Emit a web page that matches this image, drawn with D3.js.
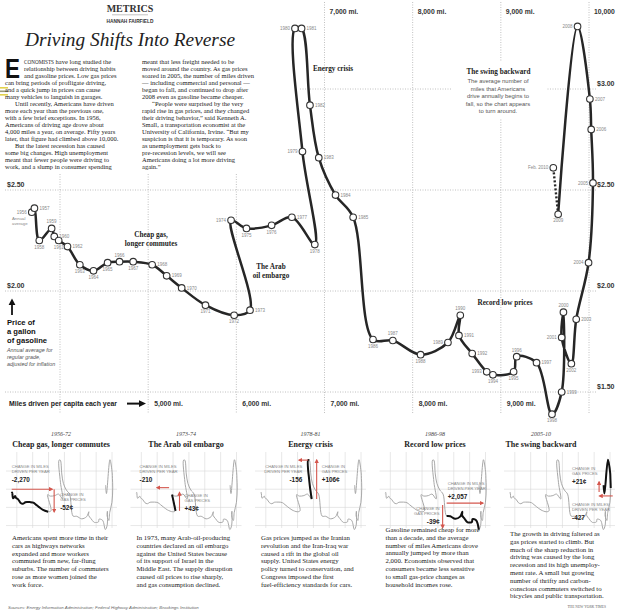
<!DOCTYPE html>
<html>
<head>
<meta charset="utf-8">
<script src="https://cdn.jsdelivr.net/npm/d3@7/dist/d3.min.js"></script>
<style>
  body { margin: 0; background: #fff; }
  svg { display: block; }
  .serif { font-family: "Liberation Serif", "Times New Roman", serif; }
  .sans { font-family: "Liberation Sans", Arial, sans-serif; }
</style>
</head>
<body>
<script>
// ---- data ----
var yearLabels = ["1956","1957","1958","1959","1960","1961","1962","1963","1964","1965",
  "1966","1967","1968","1969","1970","1971","1972","1973","1974","1975",
  "1976","1977","1978","1979","1980","1981","1982","1983","1984","1985",
  "1986","1987","1988","1989","1990","1991","1992","1993","1994","1995",
  "1996","1997","1998","1999","2000","2001","2002","2003","2004","2005",
  "2006","2007","2008","2009","Feb. 2010"];
var milesDriven = [3680,3710,3765,3905,3935,3985,4085,4225,4380,4540,
  4675,4830,5045,5210,5380,5650,5975,6155,5940,6115,
  6400,6630,6890,6750,6665,6740,6835,6935,7125,7325,
  7550,7775,8090,8400,8540,8525,8675,8840,8910,9145,
  9180,9405,9580,9690,9710,9690,9800,9855,9995,10045,
  10025,10010,9870,9650,9595];
var gasPrice = [2.39,2.41,2.25,2.31,2.27,2.25,2.22,2.13,2.10,2.14,
  2.145,2.145,2.13,2.075,2.015,1.93,1.88,1.905,2.35,2.31,
  2.325,2.365,2.23,2.69,3.30,3.30,2.92,2.66,2.475,2.365,
  1.76,1.755,1.685,1.745,1.88,1.78,1.69,1.60,1.585,1.60,
  1.675,1.645,1.39,1.50,1.895,1.77,1.64,1.86,2.14,2.535,
  2.80,2.95,3.31,2.38,2.61];
var labelSide = ["l","r","b","t","r","b","r","b","b","b",
  "t","b","r","r","r","b","b","r","l","b",
  "b","r","b","l","l","r","r","r","r","r",
  "b","t","b","l","t","r","r","l","b","b",
  "t","r","b","r","t","l","b","r","l","l",
  "r","r","l","b","l"];

var gridMiles = [4000, 5000, 6000, 7000, 8000, 9000, 10000];
var topMileTicks = [7000, 8000, 9000, 10000];
var bottomMileTicks = [5000, 6000, 7000, 8000, 9000];
var gridPrices = [1.5, 2, 2.5, 3];
var leftPriceTicks = [2.5, 2];

var bodyCol1 = [
  " have long studied the",
  "relationship between driving habits",
  "and gasoline prices. Low gas prices",
  "can bring periods of profligate driving,",
  "and a quick jump in prices can cause",
  "many vehicles to languish in garages.",
  "Until recently, Americans have driven",
  "more each year than the previous one,",
  "with a few brief exceptions. In 1956,",
  "Americans of driving age drove about",
  "4,000 miles a year, on average. Fifty years",
  "later, that figure had climbed above 10,000.",
  "But the latest recession has caused",
  "some big changes. High unemployment",
  "meant that fewer people were driving to",
  "work, and a slump in consumer spending"];
var bodyCol2 = [
  "meant that less freight needed to be",
  "moved around the country. As gas prices",
  "soared in 2005, the number of miles driven",
  "\u2014 including commercial and personal \u2014",
  "began to fall, and continued to drop after",
  "2008 even as gasoline became cheaper.",
  "\u201cPeople were surprised by the very",
  "rapid rise in gas prices, and they changed",
  "their driving behavior,\u201d said Kenneth A.",
  "Small, a transportation economist at the",
  "University of California, Irvine. \u201cBut my",
  "suspicion is that it is temporary. As soon",
  "as unemployment gets back to",
  "pre-recession levels, we will see",
  "Americans doing a lot more driving",
  "again.\u201d"];
var col1Indent = [6, 12];
var col2Indent = [6];

var swingNote = ["The average number of", "miles that Americans", "drive annually begins to",
  "fall, so the chart appears", "to turn around."];
var priceNote = ["Annual average for", "regular grade,", "adjusted for inflation"];

var panelPeriods = ["1956-72", "1973-74", "1978-81", "1986-98", "2005-10"];
var panelTitles = ["Cheap gas, longer commutes", "The Arab oil embargo", "Energy crisis",
  "Record low prices", "The swing backward"];
var panelFrom = ["1956", "1973", "1978", "1986", "2005"];
var panelTo = ["1972", "1974", "1981", "1998", "Feb. 2010"];
var milesChange = ["-2,270", "-210", "-156", "+2,057", "-427"];
var priceChange = ["-52\u00a2", "+43\u00a2", "+106\u00a2", "-39\u00a2", "+21\u00a2"];
var panelText = [
  ["Americans spent more time in their", "cars as highways networks", "expanded and more workers",
   "commuted from new, far-flung", "suburbs. The number of commuters", "rose as more women joined the",
   "work force."],
  ["In 1973, many Arab-oil-producing", "countries declared an oil embargo", "against the United States because",
   "of its support of Israel in the", "Middle East. The supply disruption", "caused oil prices to rise sharply,",
   "and gas consumption declined."],
  ["Gas prices jumped as the Iranian", "revolution and the Iran-Iraq war", "caused a rift in the global oil",
   "supply. United States energy", "policy turned to conservation, and", "Congress imposed the first",
   "fuel-efficiency standards for cars."],
  ["Gasoline remained cheap for more", "than a decade, and the average", "number of miles Americans drove",
   "annually jumped by more than", "2,000. Economists observed that", "consumers became less sensitive",
   "to small gas-price changes as", "household incomes rose."],
  ["The growth in driving faltered as", "gas prices started to climb.  But", "much of the sharp reduction in",
   "driving was caused by the long", "recession and its high unemploy-", "ment rate. A small but growing",
   "number of thrifty and carbon-", "conscious commuters switched to", "bicycles and public transportation."]
];

// ---- setup ----
var width = 617, height = 613;
var svg = d3.select("body").append("svg").attr("width", width).attr("height", height);

var x = d3.scaleLinear().domain([4000, 10000]).range([60, 589]);
var y = d3.scaleLinear().domain([1.5, 3]).range([392, 89]);

var data = yearLabels.map(function (yr, i) {
  return { year: yr, m: milesDriven[i], p: gasPrice[i], side: labelSide[i] };
});

var ink = "#262626", gray = "#888", red = "#d4574e";

var defs = svg.append("defs");
defs.append("marker").attr("id", "redHead")
  .attr("viewBox", "0 0 10 10").attr("refX", 7).attr("refY", 5)
  .attr("markerWidth", 4.5).attr("markerHeight", 4.5)
  .attr("markerUnits", "userSpaceOnUse").attr("orient", "auto")
  .append("path").attr("d", "M0,0L10,5L0,10z").attr("fill", red);

// scanner marks at the left edge
[87, 90.5, 94].forEach(function (yy, i) {
  svg.append("rect").attr("x", 0).attr("y", yy).attr("width", 8).attr("height", 1.6)
    .attr("fill", i == 1 ? "#9a9a7a" : "#e3d24c");
});

// ---- grid ----
var grid = svg.append("g").attr("stroke", "#b0b0b0").attr("stroke-width", 0.8)
  .attr("stroke-dasharray", "1,1.5");
gridMiles.forEach(function (m) {
  grid.append("line").attr("x1", x(m)).attr("x2", x(m))
    .attr("y1", m >= 7000 ? 2 : 174).attr("y2", 413);
});
gridPrices.forEach(function (p) {
  grid.append("line").attr("x1", p == 3 ? 300 : 5).attr("x2", 597)
    .attr("y1", y(p)).attr("y2", y(p));
});

// ---- axis labels ----
var fmt = d3.format(",");
svg.selectAll(".topTick").data(topMileTicks).enter().append("text")
  .attr("class", "sans").attr("x", function (d) { return x(d) + 5; }).attr("y", 14)
  .attr("font-size", 6.8).attr("font-weight", "bold").attr("fill", "#333")
  .text(function (d) { return d == 10000 ? fmt(d) : fmt(d) + " mi."; });
svg.selectAll(".botTick").data(bottomMileTicks).enter().append("text")
  .attr("class", "sans").attr("x", function (d) { return x(d) + 6; }).attr("y", 406)
  .attr("font-size", 6.8).attr("font-weight", "bold").attr("fill", "#333")
  .text(function (d) { return fmt(d) + " mi."; });
svg.selectAll(".rTick").data(gridPrices).enter().append("text")
  .attr("class", "sans").attr("x", 597).attr("y", function (d) { return y(d) - 3; })
  .attr("font-size", 7).attr("font-weight", "bold").attr("fill", "#333")
  .text(function (d) { return "$" + d.toFixed(2); });
svg.selectAll(".lTick").data(leftPriceTicks).enter().append("text")
  .attr("class", "sans").attr("x", 7).attr("y", function (d) { return y(d) - 3; })
  .attr("font-size", 7).attr("font-weight", "bold").attr("fill", "#333")
  .text(function (d) { return "$" + d.toFixed(2); });

svg.append("text").attr("class", "sans").attr("x", 9).attr("y", 406)
  .attr("font-size", 6.9).attr("font-weight", "bold").attr("fill", "#222")
  .text("Miles driven per capita each year");
svg.append("line").attr("x1", 127).attr("x2", 140).attr("y1", 403.6).attr("y2", 403.6)
  .attr("stroke", "#111").attr("stroke-width", 2);
svg.append("path").attr("d", "M139,400.3L146,403.6L139,406.9z").attr("fill", "#111");

svg.append("line").attr("x1", 12).attr("x2", 12).attr("y1", 315).attr("y2", 304)
  .attr("stroke", "#111").attr("stroke-width", 1.8);
svg.append("path").attr("d", "M8.6,305L12,298.5L15.4,305z").attr("fill", "#111");
["Price of", "a gallon", "of gasoline"].forEach(function (t, i) {
  svg.append("text").attr("class", "sans").attr("x", 7).attr("y", 325 + i * 9)
    .attr("font-size", 7.6).attr("font-weight", "bold").attr("fill", "#111").text(t);
});
priceNote.forEach(function (t, i) {
  svg.append("text").attr("class", "sans").attr("x", 7).attr("y", 352 + i * 7)
    .attr("font-size", 5.4).attr("font-style", "italic").attr("fill", "#555").text(t);
});

// ---- header text block ----
svg.append("text").attr("class", "serif").attr("x", 130).attr("y", 11.5)
  .attr("text-anchor", "middle").attr("font-size", 10).attr("font-weight", "bold")
  .attr("fill", "#333").text("METRICS");
svg.append("line").attr("x1", 112).attr("x2", 148).attr("y1", 14.8).attr("y2", 14.8)
  .attr("stroke", "#aaa").attr("stroke-width", 0.7);
svg.append("text").attr("class", "sans").attr("x", 130).attr("y", 23)
  .attr("text-anchor", "middle").attr("font-size", 4.8).attr("font-weight", "bold")
  .attr("fill", "#333").text("HANNAH FAIRFIELD");
svg.append("text").attr("class", "serif").attr("x", 25).attr("y", 46)
  .attr("font-size", 19.5).attr("font-style", "italic").attr("fill", "#222")
  .attr("textLength", 210).attr("lengthAdjust", "spacingAndGlyphs")
  .text("Driving Shifts Into Reverse");

svg.append("text").attr("class", "sans").attr("x", 5).attr("y", 78)
  .attr("font-size", 28).attr("font-weight", "bold").attr("fill", "#111")
  .attr("textLength", 15).attr("lengthAdjust", "spacingAndGlyphs").text("E");

var lineGap = 7.0, bodyTop = 63.5;
bodyCol1.forEach(function (t, i) {
  var xx = i < 3 ? 24 : (col1Indent.indexOf(i) >= 0 ? 15 : 5);
  var tx = svg.append("text").attr("class", "serif").attr("x", xx)
    .attr("y", bodyTop + i * lineGap).attr("font-size", 6.5).attr("fill", "#222");
  if (i == 0) {
    tx.append("tspan").attr("font-size", 5.2).text("CONOMISTS");
    tx.append("tspan").text(t);
  } else {
    tx.text(t);
  }
});
bodyCol2.forEach(function (t, i) {
  svg.append("text").attr("class", "serif")
    .attr("x", col2Indent.indexOf(i) >= 0 ? 152 : 142)
    .attr("y", bodyTop + i * lineGap).attr("font-size", 6.5).attr("fill", "#222").text(t);
});

// ---- annotations ----
function bold(t, xx, yy, anchor) {
  svg.append("text").attr("class", "serif").attr("x", xx).attr("y", yy)
    .attr("text-anchor", anchor || "middle").attr("font-size", 7.2)
    .attr("font-weight", "bold").attr("fill", "#222").text(t);
}
bold("Cheap gas,", 151, 237);
bold("longer commutes", 151, 245.5);
bold("The Arab", 271, 269);
bold("oil embargo", 271, 277.5);
bold("Energy crisis", 313, 70.5, "start");
bold("Record low prices", 505, 304.5);

svg.append("rect").attr("x", 452).attr("y", 62).attr("width", 95).attr("height", 56)
  .attr("fill", "#fff");
bold("The swing backward", 498.5, 73.5);
swingNote.forEach(function (t, i) {
  svg.append("text").attr("class", "sans").attr("x", 498).attr("y", 83 + i * 7.6)
    .attr("text-anchor", "middle").attr("font-size", 5.9).attr("fill", "#555").text(t);
});

// ---- main line ----
var line = d3.line()
  .x(function (d) { return x(d.m); })
  .y(function (d) { return y(d.p); })
  .curve(d3.curveCatmullRom.alpha(0.5));

var solid = data.slice(0, data.length - 1);
var tail = data.slice(data.length - 2);

svg.append("path").datum(solid).attr("d", line)
  .attr("fill", "none").attr("stroke", ink).attr("stroke-width", 2.5)
  .attr("stroke-linejoin", "round");
svg.append("path").datum(tail).attr("d", d3.line().x(function (d) { return x(d.m); }).y(function (d) { return y(d.p); }))
  .attr("fill", "none").attr("stroke", ink).attr("stroke-width", 2.4)
  .attr("stroke-dasharray", "2,2");

svg.selectAll(".dot").data(data).enter().append("circle")
  .attr("class", "dot").attr("r", 3.3)
  .attr("cx", function (d) { return x(d.m); }).attr("cy", function (d) { return y(d.p); })
  .attr("fill", "#fff").attr("stroke", "#333").attr("stroke-width", 1.1);

var offs = { l: [-5, 1.6, "end"], r: [5, 1.6, "start"], b: [0, 8.2, "middle"], t: [0, -5, "middle"] };
svg.selectAll(".yl").data(data).enter().append("text")
  .attr("class", "sans yl")
  .attr("x", function (d) { return x(d.m) + offs[d.side][0]; })
  .attr("y", function (d) { return y(d.p) + offs[d.side][1]; })
  .attr("text-anchor", function (d) { return offs[d.side][2]; })
  .attr("font-size", 4.5).attr("fill", gray)
  .text(function (d) { return d.year; });
["Annual", "average"].forEach(function (t, i) {
  svg.append("text").attr("class", "sans").attr("x", 12).attr("y", 220 + i * 4.5)
    .attr("font-size", 4.3).attr("fill", gray).text(t);
});

// ---- small multiples ----
var panelLeft = [6, 130.5, 255, 379.5, 504];
var titleMid = [61, 186, 310.5, 435, 541];
var k = 0.18, miniTop = 455;

function arrow(g, x1, y1, x2, y2) {
  g.append("line").attr("x1", x1).attr("y1", y1).attr("x2", x2).attr("y2", y2)
    .attr("stroke", red).attr("stroke-width", 1.1).attr("marker-end", "url(#redHead)");
}
function changeLabel(g, xx, yy, anchor, w1, w2, value) {
  [w1, w2].forEach(function (t, i) {
    g.append("text").attr("class", "sans").attr("x", xx).attr("y", yy + i * 5.2)
      .attr("text-anchor", anchor).attr("font-size", 4.2).attr("fill", "#888").text(t);
  });
  g.append("text").attr("class", "sans").attr("x", xx).attr("y", yy + 13.5)
    .attr("text-anchor", anchor).attr("font-size", 6.4).attr("font-weight", "bold")
    .attr("fill", "#222").text(value);
}

panelTitles.forEach(function (title, i) {
  var left = panelLeft[i], mid = titleMid[i];
  var g = svg.append("g");
  var xs = d3.scaleLinear().domain(x.domain()).range(x.range().map(function (v) { return left + v * k; }));
  var ys = d3.scaleLinear().domain(y.domain()).range(y.range().map(function (v) { return miniTop + v * k; }));

  g.append("text").attr("class", "serif").attr("x", mid).attr("y", 436)
    .attr("text-anchor", "middle").attr("font-size", 6).attr("font-style", "italic")
    .attr("fill", "#444").text(panelPeriods[i]);
  g.append("text").attr("class", "serif").attr("x", mid).attr("y", 447)
    .attr("text-anchor", "middle").attr("font-size", 8).attr("font-weight", "bold")
    .attr("fill", "#222").text(title);

  var mg = g.append("g").attr("stroke", "#d6d6d6").attr("stroke-width", 0.6);
  gridMiles.forEach(function (m) {
    mg.append("line").attr("x1", xs(m)).attr("x2", xs(m)).attr("y1", 452).attr("y2", 528);
  });
  gridPrices.forEach(function (p) {
    mg.append("line").attr("x1", left).attr("x2", left + 111).attr("y1", ys(p)).attr("y2", ys(p));
  });

  var ml = d3.line().x(function (d) { return xs(d.m); }).y(function (d) { return ys(d.p); })
    .curve(d3.curveCatmullRom.alpha(0.5));
  g.append("path").datum(data).attr("d", ml).attr("fill", "none")
    .attr("stroke", "#a8a8a8").attr("stroke-width", 1);
  var a = yearLabels.indexOf(panelFrom[i]), b = yearLabels.indexOf(panelTo[i]);
  var seg = data.slice(a, b + 1);
  g.append("path").datum(seg).attr("d", ml).attr("fill", "none")
    .attr("stroke", "#111").attr("stroke-width", 2);

  var x0 = xs(data[a].m), y0 = ys(data[a].p), x1 = xs(data[b].m), y1 = ys(data[b].p);
  var mA = "CHANGE IN MILES", mB = "DRIVEN PER YEAR", pA = "CHANGE IN", pB = "GAS PRICES";
  if (i == 0) {
    arrow(g, x0, y0 - 4, x1 + 4, y0 - 4);
    arrow(g, x1 + 6, y0 - 4, x1 + 6, y1);
    changeLabel(g, x0, 468, "start", mA, mB, milesChange[i]);
    changeLabel(g, x1 + 12, 496, "start", pA, pB, priceChange[i]);
  } else if (i == 1) {
    arrow(g, x1 - 3, y1 - 7, x1 - 15, y1 - 7);
    arrow(g, x0 + 4, y0, x0 + 4, y1 - 2);
    changeLabel(g, left + 9, 468, "start", mA, mB, milesChange[i]);
    changeLabel(g, x0 + 9, 497, "start", pA, pB, priceChange[i]);
  } else if (i == 2) {
    arrow(g, x1 - 1, y1, x1 - 10, y1);
    arrow(g, x0 + 5, y0, x0 + 5, y1);
    changeLabel(g, x1 - 7, 468, "end", mA, mB, milesChange[i]);
    changeLabel(g, x0 + 10, 468, "start", pA, pB, priceChange[i]);
  } else if (i == 3) {
    arrow(g, x0, y0 - 13, x1 + 4, y0 - 13);
    arrow(g, x0 - 4, y0 - 11, x0 - 4, y1 - 2);
    changeLabel(g, x0 + 1, 485, "start", mA, mB, milesChange[i]);
    changeLabel(g, x0 - 7, 510, "end", pA, pB, priceChange[i]);
  } else {
    arrow(g, x1 - 4.5, y0 + 4, x1 - 4.5, y0 - 6);
    arrow(g, x0 + 2, y0 + 8, x1 - 4, y0 + 8);
    changeLabel(g, left + 68, 470, "start", pA, pB, priceChange[i]);
    changeLabel(g, left + 68, 506, "start", mA, mB, milesChange[i]);
  }

  var textTop = i == 3 ? 532 : (i == 4 ? 536 : 540);
  panelText[i].forEach(function (t, j) {
    g.append("text").attr("class", "serif").attr("x", left + 6).attr("y", textTop + j * 7.8)
      .attr("font-size", 6.8).attr("fill", "#222").text(t);
  });
});

svg.append("text").attr("class", "sans").attr("x", 8).attr("y", 609)
  .attr("font-size", 4.4).attr("font-style", "italic").attr("fill", "#666")
  .text("Sources: Energy Information Administration; Federal Highway Administration; Brookings Institution");
svg.append("text").attr("class", "serif").attr("x", 606).attr("y", 608)
  .attr("text-anchor", "end").attr("font-size", 3.6).attr("fill", "#666")
  .text("THE NEW YORK TIMES");
</script>
</body>
</html>
